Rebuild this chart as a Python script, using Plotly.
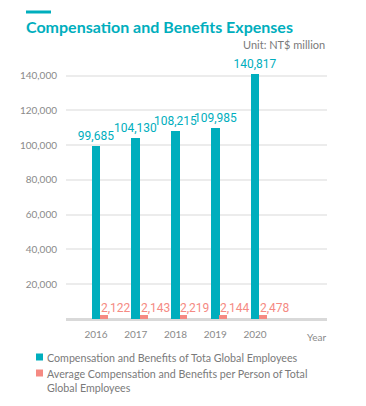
import plotly.graph_objects as go

years = [2016, 2017, 2018, 2019, 2020]
total_comp = [99685, 104130, 108215, 109985, 140817]
avg_comp = [2122, 2143, 2219, 2144, 2478]
y_ticks = [20000, 40000, 60000, 80000, 100000, 120000, 140000]

TEAL = "#00aebd"
PINK = "#f58a83"
GRAY = "#8a8a8a"
FONT = "Lato"
NUMFONT = "Roboto"

W, H = 366, 406
L, R, T, B = 66, 327, 64, 319

def px(x):
    return (x - L) / (R - L)

def py(y):
    return (B - y) / (B - T)

fig = go.Figure()
fig.add_trace(go.Bar(
    x=years, y=total_comp, width=0.22, offset=-0.11,
    marker=dict(color=TEAL, line=dict(width=0)),
    text=[f"{v:,}" for v in total_comp], textposition="outside",
    constraintext="none",
    textfont=dict(color=TEAL, size=12, family=NUMFONT),
    cliponaxis=False,
    name="Compensation and Benefits of Tota Global Employees",
))
fig.add_trace(go.Bar(
    x=years, y=avg_comp, width=0.2, offset=0.1,
    marker=dict(color=PINK, line=dict(width=0)),
    name="Average Compensation and Benefits per Person of Total Global Employees",
))

annotations = []
for yr, v in zip(years, avg_comp):
    annotations.append(dict(
        x=yr + 0.12, y=v, xref="x", yref="y", text=f"{v:,}", showarrow=False,
        xanchor="left", yanchor="bottom", xshift=-2, yshift=-2,
        font=dict(color=PINK, size=12, family=NUMFONT),
    ))

# Title, unit, axis label
annotations += [
    dict(x=px(24), y=py(26), xref="paper", yref="paper", text="<b>Compensation and Benefits Expenses</b>",
         showarrow=False, xanchor="left", yanchor="middle",
         font=dict(color=TEAL, size=16, family=FONT)),
    dict(x=px(327), y=py(44), xref="paper", yref="paper", text="Unit: NT$ million",
         showarrow=False, xanchor="right", yanchor="middle",
         font=dict(color="#7a7a7a", size=11, family=FONT)),
    dict(x=px(328), y=py(337), xref="paper", yref="paper", text="Year",
         showarrow=False, xanchor="right", yanchor="middle",
         font=dict(color=GRAY, size=10, family=FONT)),
]

# Custom legend
legend_items = [
    (TEAL, "Compensation and Benefits of Tota Global Employees", 357),
    (PINK, "Average Compensation and Benefits per Person of Total<br>Global Employees", 373),
]
shapes = [dict(type="line", xref="paper", yref="paper", x0=px(26), x1=px(51), y0=py(12), y1=py(12),
               line=dict(color=TEAL, width=3))]
for color, label, yy in legend_items:
    shapes.append(dict(type="rect", xref="paper", yref="paper",
                       x0=px(36), x1=px(43), y0=py(yy + 3.5), y1=py(yy - 3.5),
                       fillcolor=color, line=dict(width=0)))
    annotations.append(dict(x=px(45), y=py(yy - 8), xref="paper", yref="paper", text=label,
                            showarrow=False, xanchor="left", yanchor="top", align="left",
                            font=dict(color="#7a7a7a", size=10.7, family=FONT)))

fig.update_layout(
    width=W, height=H,
    margin=dict(l=L, r=W - R, t=T, b=H - B),
    paper_bgcolor="white", plot_bgcolor="white",
    showlegend=False,
    bargap=0,
    annotations=annotations, shapes=shapes,
    xaxis=dict(range=[2015.245, 2021.81], tickvals=years, ticktext=[str(y) for y in years],
               showgrid=False, zeroline=False, showline=False, ticks="",
               tickfont=dict(color=GRAY, size=10, family=FONT), ticklabelstandoff=8),
    yaxis=dict(range=[0, 146700], tickvals=y_ticks, tickformat=",",
               showgrid=True, gridcolor="#ececec", gridwidth=2,
               zeroline=True, zerolinecolor="#d9d9d9", zerolinewidth=3,
               showline=False, ticks="",
               tickfont=dict(color=GRAY, size=10, family=FONT), ticklabelstandoff=8),
)

fig.write_html("out.html", config={"displayModeBar": False},
               post_script="document.body.style.margin='0';")
